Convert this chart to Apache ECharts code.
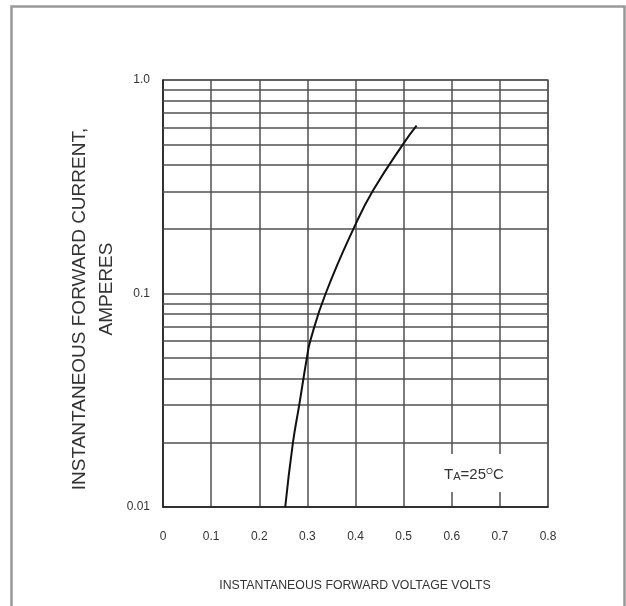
<!DOCTYPE html>
<html>
<head>
<meta charset="utf-8">
<script src="https://cdn.jsdelivr.net/npm/echarts@6/dist/echarts.min.js"></script>
<style>
html,body{margin:0;padding:0;background:#fff;}
#chart{width:626px;height:606px;}
</style>
</head>
<body>
<div id="chart"></div>
<script>
// Forward voltage (V) and instantaneous forward current (A)
const voltage = [0.254, 0.270, 0.283, 0.299, 0.306, 0.338, 0.401, 0.437, 0.500, 0.527];
const current = [0.010, 0.020, 0.030, 0.050, 0.060, 0.100, 0.213, 0.305, 0.505, 0.611];
const xTickValues = [0, 0.1, 0.2, 0.3, 0.4, 0.5, 0.6, 0.7, 0.8];
const xTickLabels = ['0', '0.1', '0.2', '0.3', '0.4', '0.5', '0.6', '0.7', '0.8'];
const yTickValues = [0.01, 0.1, 1];
const yTickLabels = ['0.01', '0.1', '1.0'];
const yMinorGrid = [0.02, 0.03, 0.04, 0.05, 0.06, 0.07, 0.08, 0.09, 0.2, 0.3, 0.4, 0.5, 0.6, 0.7, 0.8, 0.9];
const xAxisTitle = 'INSTANTANEOUS FORWARD VOLTAGE VOLTS';
const yAxisTitle1 = 'INSTANTANEOUS FORWARD CURRENT,';
const yAxisTitle2 = 'AMPERES';

function nearestLabel(values, labels, v) {
  let best = 0, bd = Infinity;
  values.forEach((t, i) => { const d = Math.abs(Math.log(Math.abs(t) + 1e-9) - Math.log(Math.abs(v) + 1e-9)) + Math.abs(t - v); if (d < bd) { bd = d; best = i; } });
  return labels[best];
}

const chart = echarts.init(document.getElementById('chart'), null, {renderer: 'canvas'});
const gridColor = '#505050';
chart.setOption({
  animation: false,
  backgroundColor: '#fff',
  grid: {left: 163, right: 78, top: 80, bottom: 99, show: true, borderColor: '#777', borderWidth: 1.5},
  xAxis: {
    type: 'value', min: 0, max: 0.8, interval: 0.1,
    axisLine: {show: true, onZero: false, lineStyle: {color: '#222', width: 1.5}},
    axisTick: {show: false},
    splitLine: {show: true, lineStyle: {color: gridColor, width: 1.5}},
    axisLabel: {margin: 24, color: '#333', fontSize: 12, fontFamily: 'Liberation Sans, Arial, sans-serif',
      formatter: v => nearestLabel(xTickValues, xTickLabels, v)}
  },
  yAxis: {
    type: 'log', logBase: 10, min: 0.01, max: 1,
    axisLine: {show: true, lineStyle: {color: '#222', width: 1.5}},
    axisTick: {show: false},
    splitLine: {show: true, lineStyle: {color: gridColor, width: 1.5}},
    axisLabel: {margin: 13, color: '#333', fontSize: 12, fontFamily: 'Liberation Sans, Arial, sans-serif',
      formatter: v => nearestLabel(yTickValues, yTickLabels, v)}
  },
  series: [{
    type: 'line',
    data: voltage.map((v, i) => [v, current[i]]),
    smooth: 0.5,
    showSymbol: false,
    lineStyle: {color: '#111', width: 2},
    z: 5,
    markLine: {
      silent: true, symbol: ['none', 'none'], label: {show: false},
      lineStyle: {type: 'solid', color: gridColor, width: 1.5},
      data: yMinorGrid.map(v => ({yAxis: v})),
      z: 1
    }
  }],
  graphic: [
    {type: 'rect', z: 100, silent: true,
      shape: {x: 11.5, y: 6.5, width: 613, height: 640},
      style: {fill: 'none', stroke: '#999', lineWidth: 2.5}},
    {type: 'text', z: 100, x: 355, y: 586,
      style: {text: xAxisTitle, fill: '#333', font: '12.3px "Liberation Sans", Arial, sans-serif', textAlign: 'center', textVerticalAlign: 'middle'}},
    {type: 'text', z: 100, x: 80, y: 309, rotation: Math.PI / 2,
      style: {text: yAxisTitle1, fill: '#333', font: '19px "Liberation Sans", Arial, sans-serif', textAlign: 'center', textVerticalAlign: 'middle'}},
    {type: 'text', z: 100, x: 107, y: 289, rotation: Math.PI / 2,
      style: {text: yAxisTitle2, fill: '#333', font: '19px "Liberation Sans", Arial, sans-serif', textAlign: 'center', textVerticalAlign: 'middle'}},
    {type: 'text', z: 100, x: 474, y: 473,
      style: {
        text: '{t|T}{a|A}{e|=25}{o|O}{c|C}',
        textAlign: 'center', textVerticalAlign: 'middle',
        backgroundColor: '#fff', padding: [13, 2, 10, 2],
        rich: {
          t: {fontSize: 15, fill: '#333', fontFamily: 'Liberation Sans, Arial', verticalAlign: 'bottom'},
          a: {fontSize: 11, fill: '#333', fontFamily: 'Liberation Sans, Arial', verticalAlign: 'bottom'},
          e: {fontSize: 15, fill: '#333', fontFamily: 'Liberation Sans, Arial', verticalAlign: 'bottom'},
          o: {fontSize: 9, fill: '#333', fontFamily: 'Liberation Sans, Arial', verticalAlign: 'top'},
          c: {fontSize: 15, fill: '#333', fontFamily: 'Liberation Sans, Arial', verticalAlign: 'bottom'}
        }
      }}
  ]
});
</script>
</body>
</html>
